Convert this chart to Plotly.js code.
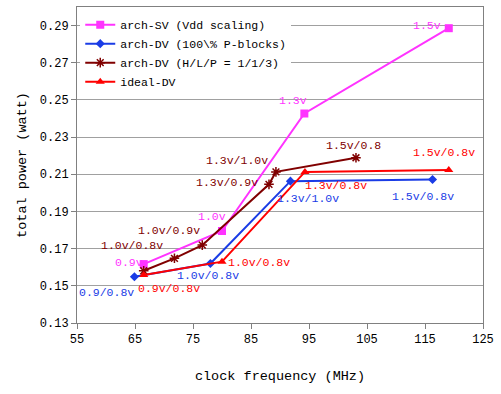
<!DOCTYPE html>
<html><head><meta charset="utf-8">
<script src="https://cdn.plot.ly/plotly-3.0.1.min.js"></script>
<style>body{margin:0;background:#fff}#c{width:501px;height:394px}</style>
</head><body><div id="c"></div>
<script>
var svX = [66.5, 80.0, 94.2, 119.1];
var svY = [0.1617, 0.1795, 0.2427, 0.2886];
var svLbl = ["0.9v", "1.0v", "1.3v", "1.5v"];

var dv100X = [64.9, 78.0, 91.8, 116.3];
var dv100Y = [0.1549, 0.1620, 0.2063, 0.2072];
var dv100Lbl = ["0.9/0.8v", "1.0v/0.8v", "1.3v/1.0v", "1.5v/0.8v"];

var hlpX = [66.5, 71.8, 76.6, 88.1, 89.3, 103.1];
var hlpY = [0.1581, 0.1648, 0.1719, 0.2046, 0.2113, 0.2189];
var hlpLbl = ["1.0v/0.8v", "1.0v/0.9v", "1.3v/0.9v", "1.3v/1.0v", "1.5v/0.8"];

var idealX = [66.5, 80.0, 94.3, 119.1];
var idealY = [0.1558, 0.1630, 0.2113, 0.2123];
var idealLbl = ["0.9v/0.8v", "1.0v/0.8v", "1.3v/0.8v", "1.5v/0.8v"];

var names = ["arch-SV (Vdd scaling)", "arch-DV (100\\% P-blocks)", "arch-DV (H/L/P = 1/1/3)", "ideal-DV"];
var colors = ["#ff33ff", "#1a3ce6", "#800000", "#ff0000"];

var FONT = "Liberation Mono, DejaVu Sans Mono, monospace";

var traces = [
  {x: svX, y: svY, name: names[0], mode: "lines+markers", line: {color: colors[0], width: 2},
   marker: {symbol: "square", size: 8, color: colors[0]}},
  {x: dv100X, y: dv100Y, name: names[1], mode: "lines+markers", line: {color: colors[1], width: 2},
   marker: {symbol: "diamond", size: 7, color: colors[1]}},
  {x: hlpX, y: hlpY, name: names[2], mode: "lines+markers", line: {color: colors[2], width: 2},
   marker: {symbol: "asterisk-open", size: 8, color: colors[2], line: {color: colors[2], width: 1.5}}},
  {x: idealX, y: idealY, name: names[3], mode: "lines+markers", line: {color: colors[3], width: 2},
   marker: {symbol: "triangle-up", size: 8, color: colors[3]}}
];

// label positions (data coords)
var svLX = [63.9, 78.2, 92.3, 115.3], svLY = [0.1624, 0.1871, 0.2499, 0.2902];
var dvLX = [60.1, 77.6, 94.9, 114.7], dvLY = [0.1463, 0.1553, 0.1970, 0.1983];
var hlLX = [64.4, 70.8, 80.8, 82.5, 102.6], hlLY = [0.1719, 0.1800, 0.2054, 0.2176, 0.2257];
var idLX = [70.8, 86.4, 99.6, 118.3], idLY = [0.1487, 0.1624, 0.2042, 0.2218];

var ann = [];
function addL(lbls, xs, ys, col) {
  for (var i = 0; i < lbls.length; i++) {
    ann.push({x: xs[i], y: ys[i], xref: "x", yref: "y", text: lbls[i], showarrow: false,
      font: {family: FONT, size: 11.5, color: col}});
  }
}
addL(svLbl, svLX, svLY, colors[0]);
addL(dv100Lbl, dvLX, dvLY, colors[1]);
addL(hlpLbl, hlLX, hlLY, colors[2]);
addL(idealLbl, idLX, idLY, colors[3]);

var layout = {
  width: 501, height: 394,
  margin: {l: 77, r: 18, t: 7, b: 71},
  paper_bgcolor: "#fff", plot_bgcolor: "#fff",
  font: {family: FONT, size: 12, color: "#000"},
  showlegend: true,
  legend: {x: 0.008, y: 0.99, xanchor: "left", yanchor: "top", bgcolor: "#fff",
    font: {family: FONT, size: 11.5, color: "#000"}, tracegroupgap: 0, itemwidth: 30},
  xaxis: {range: [55, 125], tick0: 55, dtick: 10, ticks: "outside", ticklen: 5, tickcolor: "#808080",
    showgrid: false, zeroline: false, showline: true, linecolor: "#808080", mirror: true,
    tickfont: {family: FONT, size: 12},
    title: {text: "clock frequency (MHz)", font: {family: FONT, size: 13.5}, standoff: 24}},
  yaxis: {range: [0.13, 0.30], tick0: 0.13, dtick: 0.02, tickformat: ".2f", ticks: "outside", ticklen: 5,
    tickcolor: "#808080", showgrid: true, gridcolor: "#a0a0a0", zeroline: false, showline: true,
    linecolor: "#808080", mirror: true, tickfont: {family: FONT, size: 12},
    title: {text: "total power (watt)", font: {family: FONT, size: 13.5}, standoff: 10}},
  annotations: ann
};
Plotly.newPlot("c", traces, layout, {displayModeBar: false, staticPlot: true});
</script></body></html>
